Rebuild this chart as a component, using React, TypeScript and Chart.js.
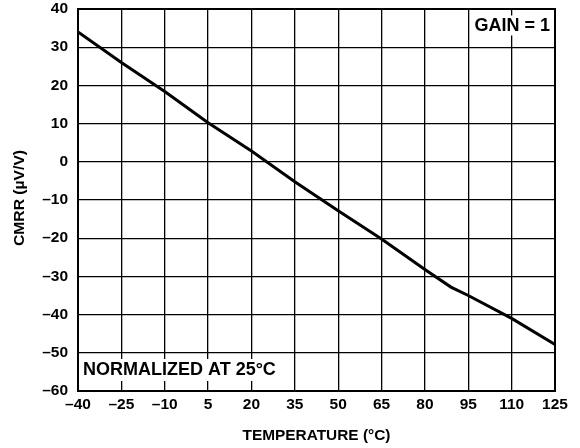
import React, { useEffect, useRef } from "react";
import { Chart, registerables } from "chart.js";

Chart.register(...registerables);

const temperatures = [-40, -25, -10, 5, 20, 35, 50, 65, 80, 89, 95, 110, 125];
const cmrrValues = [34, 26, 18.4, 10.2, 2.8, -5.2, -12.8, -20.2, -28.2, -32.8, -35, -41, -47.8];
const xTicks = [-40, -25, -10, 5, 20, 35, 50, 65, 80, 95, 110, 125];
const yTicks = [-60, -50, -40, -30, -20, -10, 0, 10, 20, 30, 40];
const xTitle = "TEMPERATURE (°C)";
const yTitle = "CMRR (µV/V)";
const gainLabel = "GAIN = 1";
const normLabel = "NORMALIZED AT 25°C";

const FONT = '"Liberation Sans", Arial, Helvetica, sans-serif';

const fmt = (v: number) => (v < 0 ? "\u2013" + Math.abs(v) : String(v));

const overlayPlugin = {
  id: "overlay",
  beforeDatasetsDraw(chart: any) {
    const { ctx, chartArea } = chart;
    ctx.save();
    ctx.strokeStyle = "#000";
    ctx.lineWidth = 2;
    ctx.strokeRect(chartArea.left, chartArea.top, chartArea.right - chartArea.left, chartArea.bottom - chartArea.top);
    ctx.restore();
  },
  afterDraw(chart: any) {
    const { ctx, chartArea } = chart;
    ctx.save();
    ctx.font = `bold 18px ${FONT}`;
    ctx.textBaseline = "middle";
    const gw = ctx.measureText(gainLabel).width;
    const gx = chartArea.right - 5 - gw;
    const gy = chartArea.top + 16.5;
    ctx.fillStyle = "#fff";
    ctx.fillRect(gx - 4, gy - 10, gw + 7, 20);
    ctx.fillStyle = "#000";
    ctx.textAlign = "left";
    ctx.fillText(gainLabel, gx, gy + 0.5);
    const nw = ctx.measureText(normLabel).width;
    const nx = chartArea.left + 5;
    const ny = chartArea.bottom - 21.5;
    ctx.fillStyle = "#fff";
    ctx.fillRect(nx - 4, ny - 10.5, nw + 9, 22);
    ctx.fillStyle = "#000";
    ctx.fillText(normLabel, nx, ny + 0.5);

    ctx.font = `bold 14px ${FONT}`;
    ctx.textAlign = "center";
    ctx.textBaseline = "middle";
    ctx.save();
    ctx.translate((chartArea.left + chartArea.right) / 2, 436);
    ctx.scale(1.1, 1);
    ctx.fillText(xTitle, 0, 0);
    ctx.restore();
    ctx.save();
    ctx.translate(20.5, (chartArea.top + chartArea.bottom) / 2 - 2);
    ctx.rotate(-Math.PI / 2);
    ctx.scale(1.12, 1);
    ctx.fillText(yTitle, 0, 0);
    ctx.restore();
    ctx.restore();
  },
};

export default function App() {
  const canvasRef = useRef<HTMLCanvasElement | null>(null);

  useEffect(() => {
    if (!canvasRef.current) return;
    const chart = new Chart(canvasRef.current, {
      type: "line",
      data: {
        datasets: [
          {
            data: temperatures.map((t, i) => ({ x: t, y: cmrrValues[i] })),
            borderColor: "#000",
            borderWidth: 3,
            pointRadius: 0,
            tension: 0,
            fill: false,
          },
        ],
      },
      options: {
        responsive: false,
        animation: false,
        devicePixelRatio: 1,
        layout: { padding: { top: 9, right: 25, bottom: 0, left: 0 } },
        plugins: {
          legend: { display: false },
          tooltip: { enabled: false },
        },
        scales: {
          x: {
            type: "linear",
            min: -40,
            max: 125,
            afterBuildTicks: (s: any) => {
              s.ticks = xTicks.map((v) => ({ value: v }));
            },
            afterFit: (s: any) => {
              s.height = 57;
              s.paddingLeft = 0;
              s.paddingRight = 0;
            },
            grid: { color: "#000", lineWidth: 1.3, drawTicks: false },
            border: { display: false },
            ticks: {
              color: "#000",
              padding: 4,
              maxRotation: 0,
              autoSkip: false,
              font: { family: FONT, size: 15.5, weight: "bold" },
              callback: (v: any) => fmt(Number(v)),
            },
          },
          y: {
            type: "linear",
            min: -60,
            max: 40,
            afterBuildTicks: (s: any) => {
              s.ticks = yTicks.map((v) => ({ value: v }));
            },
            afterFit: (s: any) => {
              s.width = 78;
              s.paddingTop = 0;
              s.paddingBottom = 0;
            },
            grid: { color: "#000", lineWidth: 1.3, drawTicks: false },
            border: { display: false },
            ticks: {
              color: "#000",
              padding: 10,
              autoSkip: false,
              font: { family: FONT, size: 15.5, weight: "bold" },
              callback: (v: any) => fmt(Number(v)),
            },
          },
        },
      } as any,
      plugins: [overlayPlugin],
    });
    return () => chart.destroy();
  }, []);

  return (
    <div style={{ position: "absolute", left: 0, top: 0, width: 580, height: 448, background: "#fff" }}>
      <canvas ref={canvasRef} width={580} height={448} />
    </div>
  );
}
